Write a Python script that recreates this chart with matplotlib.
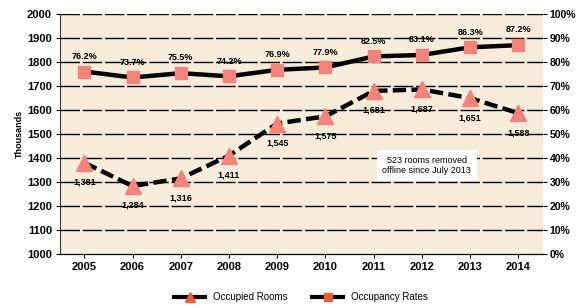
import matplotlib
matplotlib.use("Agg")
import matplotlib.pyplot as plt
from matplotlib.lines import Line2D

plt.rcParams["font.family"] = ["Liberation Sans", "DejaVu Sans"]

years = [2005, 2006, 2007, 2008, 2009, 2010, 2011, 2012, 2013, 2014]
occupied_rooms = [1381, 1284, 1316, 1411, 1545, 1575, 1681, 1687, 1651, 1588]
occupancy_rates = [76.2, 73.7, 75.5, 74.2, 76.9, 77.9, 82.5, 83.1, 86.3, 87.2]
room_labels = ["1,381", "1,284", "1,316", "1,411", "1,545", "1,575", "1,681", "1,687", "1,651", "1,588"]
rate_labels = ["76.2%", "73.7%", "75.5%", "74.2%", "76.9%", "77.9%", "82.5%", "83.1%", "86.3%", "87.2%"]
left_ticks = list(range(1000, 2001, 100))
right_ticks = list(range(0, 101, 10))

fig = plt.figure(figsize=(5.79, 3.08), dpi=100)
ax = fig.add_axes([0.104, 0.175, 0.833, 0.778])
ax.set_facecolor("#f6ecd9")
ax2 = ax.twinx()

x = list(range(len(years)))
marker_col = "#f4817a"

ax.set_ylim(1000, 2000)
ax.set_xlim(-0.5, len(years) - 0.5)
ax2.set_ylim(0, 100)

for t in left_ticks[1:]:
    ax.axhline(t, color="black", lw=1.0, dashes=(14, 2), zorder=1)

ax.plot(x, occupied_rooms, color="black", lw=3.2, ls=(0, (3, 1.2)), zorder=3)
ax.plot(x, occupied_rooms, ls="none", marker="^", ms=11, color=marker_col, mec=marker_col, zorder=4)
ax2.plot(x, occupancy_rates, color="black", lw=3.2, zorder=3)
ax2.plot(x, occupancy_rates, ls="none", marker="s", ms=8, color=marker_col, mec=marker_col, zorder=4)

for i in x:
    ax.annotate(room_labels[i], (i, occupied_rooms[i]), xytext=(0, -14), textcoords="offset points",
                ha="center", va="center", fontsize=6.5, fontweight="bold", zorder=5)
    ax2.annotate(rate_labels[i], (i, occupancy_rates[i]), xytext=(0, 11), textcoords="offset points",
                 ha="center", va="center", fontsize=6.5, fontweight="bold", zorder=5)

ax.set_xticks(x)
ax.set_xticklabels([str(y) for y in years], fontsize=8, fontweight="bold")
ax.set_yticks(left_ticks)
ax.set_yticklabels([str(t) for t in left_ticks], fontsize=8, fontweight="bold")
ax2.set_yticks(right_ticks)
ax2.set_yticklabels([f"{t}%" for t in right_ticks], fontsize=7.5, fontweight="bold")
ax.set_ylabel("Thousands", fontsize=6.5, fontweight="bold", labelpad=2)

for a in (ax, ax2):
    for s in ("top", "right", "left"):
        a.spines[s].set_visible(False)
ax.spines["bottom"].set_color("black")
ax.tick_params(axis="both", length=3, pad=3)
ax2.tick_params(axis="y", length=3, pad=2)
ax.spines["left"].set_visible(True)
ax.spines["left"].set_color("#333333")

ax.text(7.1, 1370, "523 rooms removed\noffline since July 2013", ha="center", va="center",
        fontsize=6.5, bbox=dict(boxstyle="square,pad=0.6", fc="white", ec="none"), zorder=6)

h1 = Line2D([], [], color="black", lw=3, marker="^", ms=7, mfc="#f25a2e", mec="#f25a2e")
h2 = Line2D([], [], color="black", lw=3, marker="s", ms=6, mfc="#f25a2e", mec="#f25a2e")
fig.legend([h1, h2], ["Occupied Rooms", "Occupancy Rates"], loc="center", bbox_to_anchor=(0.52, 0.035),
           ncol=2, frameon=False, fontsize=7, handlelength=3.2, columnspacing=2.5)

fig.savefig("out.png", dpi=100)
